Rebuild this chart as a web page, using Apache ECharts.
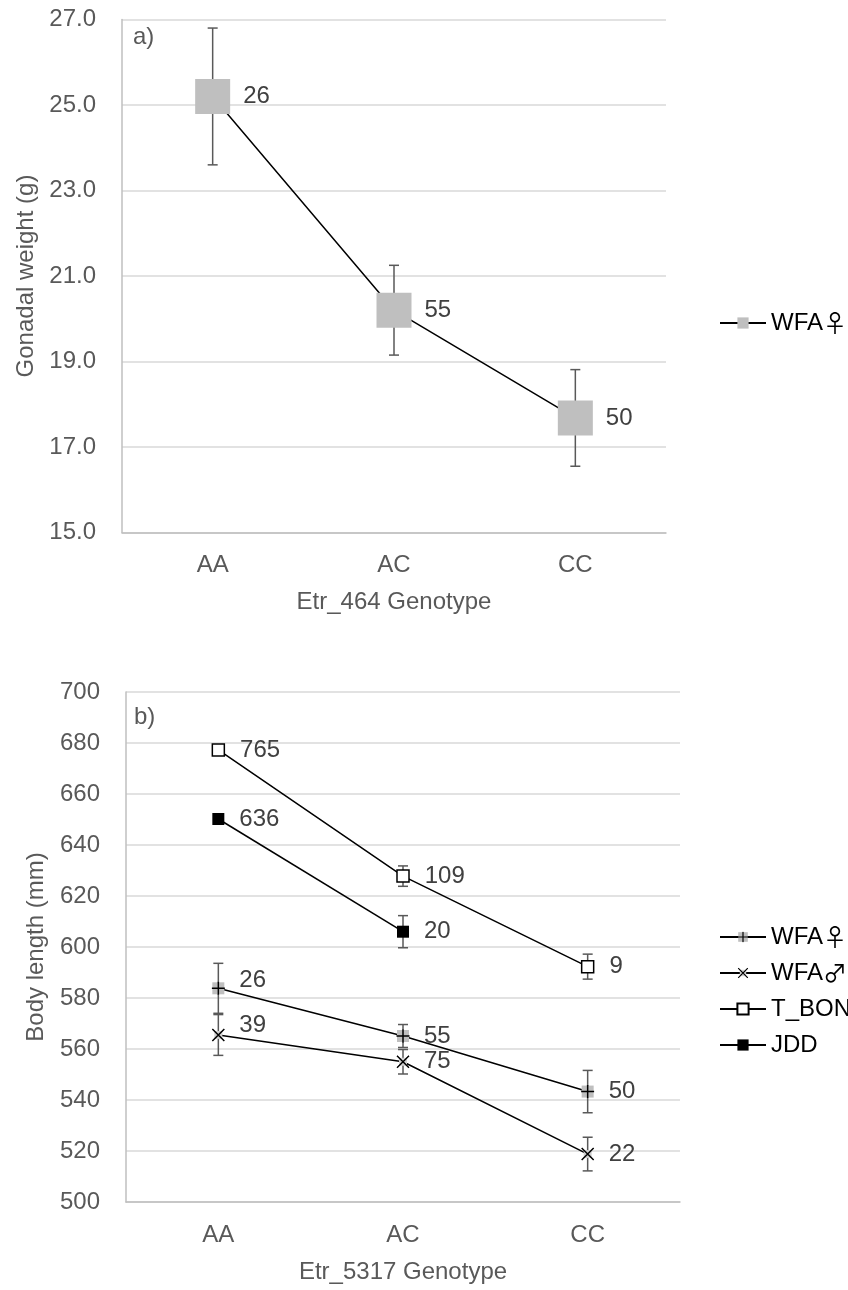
<!DOCTYPE html>
<html>
<head>
<meta charset="utf-8">
<script src="https://cdn.jsdelivr.net/npm/echarts@6/dist/echarts.min.js"></script>
<style>
  html, body { margin: 0; padding: 0; background: #fff; }
  #chart { width: 848px; height: 1290px; }
</style>
</head>
<body>
<div id="chart"></div>
<script>
// Genotype categories shared by both panels
const categories = ['AA', 'AC', 'CC'];

// Panel a: gonadal weight (g) by Etr_464 genotype
const gonadMean = [25.2, 20.2, 17.68];
const gonadErr = [1.6, 1.05, 1.13];
const gonadN = [26, 55, 50];
const gonadTicks = { min: 15, max: 27, step: 2 };

// Panel b: body length (mm) by Etr_5317 genotype
const wfaFemaleLen = [583.8, 565.1, 543.3];
const wfaFemaleErr = [9.8, 4.5, 8.3];
const wfaFemaleN = [26, 55, 50];

const wfaMaleLen = [565.5, 555.0, 518.8];
const wfaMaleErr = [8.0, 4.8, 6.6];
const wfaMaleN = [39, 75, 22];

const tbonLen = [677.3, 627.8, 592.3];
const tbonErr = [0, 4.0, 4.9];
const tbonN = [765, 109, 9];

const jddLen = [650.2, 606.0, null];
const jddErr = [0, 6.3, null];
const jddN = [636, 20, null];

const lengthTicks = { min: 500, max: 700, step: 20 };

const FONT = '"Liberation Sans", Arial, "DejaVu Sans", sans-serif';
const AXIS_TXT = '#595959';
const LABEL_TXT = '#404040';

function svgSymbol(svg) {
  return 'image://data:image/svg+xml;charset=utf-8,' + encodeURIComponent(svg);
}
// grey square with a black plus
const plusSquare = svgSymbol(
  "<svg xmlns='http://www.w3.org/2000/svg' width='28' height='28' viewBox='0 0 28 28'>" +
  "<rect x='2' y='2' width='24' height='24' fill='#bfbfbf'/>" +
  "<path d='M14 1V27M1 14H27' stroke='#000' stroke-width='3'/></svg>");
// black cross
const crossMark = svgSymbol(
  "<svg xmlns='http://www.w3.org/2000/svg' width='28' height='28' viewBox='0 0 28 28'>" +
  "<rect x='6' y='6' width='16' height='16' fill='#d0d0d0'/>" +
  "<path d='M2 2L26 26M26 2L2 26' stroke='#000' stroke-width='3'/></svg>");

// error bars as whiskers with caps
function errorBarRender(params, api) {
  const x = api.value(0);
  const lo = api.value(1);
  const hi = api.value(2);
  if (isNaN(lo) || isNaN(hi) || lo === hi) return null;
  const top = api.coord([x, hi]);
  const bot = api.coord([x, lo]);
  const w = 5;
  const style = { stroke: '#595959', lineWidth: 1.5 };
  return {
    type: 'group',
    children: [
      { type: 'line', shape: { x1: top[0], y1: top[1], x2: bot[0], y2: bot[1] }, style },
      { type: 'line', shape: { x1: top[0] - w, y1: top[1], x2: top[0] + w, y2: top[1] }, style },
      { type: 'line', shape: { x1: bot[0] - w, y1: bot[1], x2: bot[0] + w, y2: bot[1] }, style }
    ]
  };
}

function errorData(mean, err) {
  return mean.map((m, i) => (m == null || err[i] == null) ? [i, NaN, NaN] : [i, m - err[i], m + err[i]]);
}

function errorSeries(mean, err, gridIdx) {
  return {
    type: 'custom',
    xAxisIndex: gridIdx,
    yAxisIndex: gridIdx,
    z: 1,
    silent: true,
    renderItem: errorBarRender,
    encode: { x: 0, y: [1, 2] },
    data: errorData(mean, err)
  };
}

// small vertical label nudges for crowded points (series name -> index -> [dx, dy])
const labelNudge = {
  'WFA♀ ': { 0: [0, -8] },
  'WFA♂': { 0: [0, -10] }
};

function lineSeries(name, values, counts, gridIdx, symbol, size, itemStyle, labelDist) {
  const nudge = labelNudge[name] || {};
  return {
    name: name,
    type: 'line',
    xAxisIndex: gridIdx,
    yAxisIndex: gridIdx,
    z: 3,
    symbol: symbol,
    symbolSize: size,
    showAllSymbol: true,
    connectNulls: false,
    lineStyle: { color: '#000', width: 1.5 },
    itemStyle: itemStyle,
    label: {
      show: true,
      position: 'right',
      distance: labelDist,
      fontFamily: FONT,
      fontSize: 24,
      color: LABEL_TXT,
      formatter: p => counts[p.dataIndex] == null ? '' : String(counts[p.dataIndex])
    },
    data: values.map((v, i) => {
      const item = { value: v };
      if (nudge[i]) item.label = { offset: nudge[i] };
      return item;
    })
  };
}

function yAxis(gridIdx, ticks, name, gap, fmt) {
  return {
    type: 'value',
    gridIndex: gridIdx,
    min: ticks.min,
    max: ticks.max,
    interval: ticks.step,
    name: name,
    nameLocation: 'middle',
    nameGap: gap,
    nameTextStyle: { fontFamily: FONT, fontSize: 24, color: AXIS_TXT },
    axisLine: { show: true, lineStyle: { color: '#bfbfbf', width: 1.5 } },
    axisTick: { show: false },
    axisLabel: { fontFamily: FONT, fontSize: 24, color: AXIS_TXT, margin: 26, formatter: fmt },
    splitLine: { show: true, lineStyle: { color: '#d9d9d9', width: 1.5 } }
  };
}

function xAxis(gridIdx, name) {
  return {
    type: 'category',
    gridIndex: gridIdx,
    data: categories,
    boundaryGap: true,
    name: name,
    nameLocation: 'middle',
    nameGap: 58,
    nameTextStyle: { fontFamily: FONT, fontSize: 24, color: AXIS_TXT },
    axisLine: { show: true, lineStyle: { color: '#bfbfbf', width: 1.5 } },
    axisTick: { show: false },
    axisLabel: { fontFamily: FONT, fontSize: 24, color: AXIS_TXT, margin: 21 },
    splitLine: { show: false }
  };
}

// legend text: sex symbols set in a thin outline font
function legendText(name) {
  return name.trim().replace(/([♀♂])/g, '{s|$1}');
}
const legendTextStyle = {
  fontFamily: FONT,
  fontSize: 24,
  lineHeight: 24,
  color: '#000',
  rich: {
    s: { fontFamily: '"Noto Sans CJK JP", "DejaVu Sans", sans-serif', fontSize: 24, lineHeight: 24, color: '#000' }
  }
};

const chart = echarts.init(document.getElementById('chart'), null, { renderer: 'canvas' });

chart.setOption({
  animation: false,
  backgroundColor: '#fff',
  grid: [
    { left: 122, top: 19.5, width: 544, height: 513 },
    { left: 126, top: 692, width: 554, height: 510 }
  ],
  xAxis: [
    xAxis(0, 'Etr_464 Genotype'),
    xAxis(1, 'Etr_5317 Genotype')
  ],
  yAxis: [
    yAxis(0, gonadTicks, 'Gonadal weight (g)', 84, v => v.toFixed(1)),
    yAxis(1, lengthTicks, 'Body length (mm)', 78, v => String(v))
  ],
  legend: [
    {
      orient: 'vertical',
      left: 714,
      top: 306,
      itemWidth: 46,
      itemHeight: 14,
      itemGap: 12,
      selectedMode: false,
      formatter: legendText,
      textStyle: legendTextStyle,
      data: ['WFA♀']
    },
    {
      orient: 'vertical',
      left: 714,
      top: 920,
      itemWidth: 46,
      itemHeight: 14,
      itemGap: 12,
      selectedMode: false,
      formatter: legendText,
      textStyle: legendTextStyle,
      data: ['WFA♀ ', 'WFA♂', 'T_BON', 'JDD']
    }
  ],
  graphic: [
    { type: 'text', left: 133, top: 25, style: { text: 'a)', font: '24px ' + FONT, fill: AXIS_TXT } },
    { type: 'text', left: 134, top: 705, style: { text: 'b)', font: '24px ' + FONT, fill: AXIS_TXT } }
  ],
  series: [
    // panel a
    errorSeries(gonadMean, gonadErr, 0),
    lineSeries('WFA♀', gonadMean, gonadN, 0, 'rect', 35, { color: '#bfbfbf' }, 13),
    // panel b
    errorSeries(wfaFemaleLen, wfaFemaleErr, 1),
    errorSeries(wfaMaleLen, wfaMaleErr, 1),
    errorSeries(tbonLen, tbonErr, 1),
    errorSeries(jddLen, jddErr, 1),
    lineSeries('WFA♀ ', wfaFemaleLen, wfaFemaleN, 1, plusSquare, 14, { color: '#bfbfbf' }, 14),
    lineSeries('WFA♂', wfaMaleLen, wfaMaleN, 1, crossMark, 14, { color: '#000' }, 14),
    lineSeries('T_BON', tbonLen, tbonN, 1, 'rect', 12, { color: '#fff', borderColor: '#000', borderWidth: 1.5 }, 15),
    lineSeries('JDD', jddLen, jddN, 1, 'rect', 12, { color: '#000' }, 15)
  ]
});
</script>
</body>
</html>
